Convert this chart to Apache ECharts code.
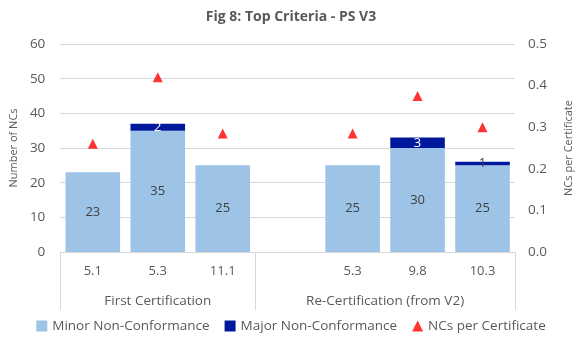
<!DOCTYPE html>
<html><head><meta charset="utf-8">
<script src="https://cdn.jsdelivr.net/npm/echarts@6/dist/echarts.min.js"></script>
<style>html,body{margin:0;padding:0;background:#fff}#c{width:582px;height:344px}</style>
</head><body><div id="c"></div>
<script>
const categories = ['5.1', '5.3', '11.1', '', '5.3', '9.8', '10.3'];
const groups = ['First Certification', 'Re-Certification (from V2)'];
const groupSlots = [3, 4];
const minorNC = [23, 35, 25, '-', 25, 30, 25];
const majorNC = [0, 2, 0, '-', 0, 3, 1];
const ncPerCert = [0.26, 0.42, 0.285, '-', 0.285, 0.375, 0.30];
const leftTicks = [0, 60, 10];
const rightTicks = [0, 0.5, 0.1];

// group axis built at half-slot resolution (boundaryGap false)
const groupData = new Array(categories.length * 2 + 1).fill('');
const groupBounds = [0];
const labelIdx = [];
let acc = 0;
groupSlots.forEach((s, i) => {
  groupData[acc * 2 + s] = groups[i];
  labelIdx.push(acc * 2 + s);
  acc += s;
  groupBounds.push(acc * 2);
});

const txt = '#595959';
const font = 'Open Sans';
const chart = echarts.init(document.getElementById('c'));
chart.setOption({
  animation: false,
  textStyle: { fontFamily: font },
  title: {
    text: 'Fig 8: Top Criteria - PS V3', left: 'center', top: 5,
    textStyle: { fontFamily: font, fontWeight: 'bold', fontSize: 14, color: txt }
  },
  grid: { left: 58, right: 64, top: 44, bottom: 92 },
  legend: {
    bottom: 6, left: 'center', itemGap: 15, itemWidth: 11, itemHeight: 11,
    textStyle: { color: txt, fontSize: 13.5, fontFamily: font },
    data: [
      { name: 'Minor Non-Conformance', icon: 'rect' },
      { name: 'Major Non-Conformance', icon: 'rect' },
      { name: 'NCs per Certificate', icon: 'triangle' }
    ]
  },
  xAxis: [
    {
      type: 'category', data: categories, position: 'bottom',
      axisLine: { lineStyle: { color: '#d9d9d9' } },
      axisTick: { show: false },
      axisLabel: { color: txt, fontSize: 13, margin: 13, interval: 0 }
    },
    {
      type: 'category', data: groupData, position: 'bottom', boundaryGap: false,
      axisLine: { show: false },
      axisTick: { show: true, length: 58, lineStyle: { color: '#d9d9d9' },
        interval: (i) => groupBounds.includes(i) },
      axisLabel: { color: txt, fontSize: 13.5, margin: 42,
        interval: (i) => labelIdx.includes(i) }
    }
  ],
  yAxis: [
    {
      type: 'value', min: leftTicks[0], max: leftTicks[1], interval: leftTicks[2],
      name: 'Number of NCs', nameLocation: 'middle', nameGap: 36, nameRotate: 90,
      nameTextStyle: { color: txt, fontSize: 11 },
      axisLine: { show: false }, axisTick: { show: false },
      axisLabel: { color: txt, fontSize: 13.5, margin: 15 },
      splitLine: { lineStyle: { color: '#d9d9d9' } }
    },
    {
      type: 'value', min: rightTicks[0], max: rightTicks[1], interval: rightTicks[2],
      name: 'NCs per Certificate', nameLocation: 'middle', nameGap: 48, nameRotate: 90,
      nameTextStyle: { color: txt, fontSize: 11 },
      axisLine: { show: false }, axisTick: { show: false },
      axisLabel: { color: txt, fontSize: 13.5, margin: 13, formatter: v => v.toFixed(1) },
      splitLine: { show: false }
    }
  ],
  series: [
    {
      name: 'Minor Non-Conformance', type: 'bar', stack: 'nc', data: minorNC,
      barCategoryGap: '16%', itemStyle: { color: '#9DC3E6' },
      label: { show: true, position: 'inside', color: '#404040', fontSize: 13 }
    },
    {
      name: 'Major Non-Conformance', type: 'bar', stack: 'nc',
      data: majorNC.map(v => (v === 1 ? { value: v, label: { color: '#404040' } } : v)),
      itemStyle: { color: '#00189C' },
      label: { show: true, position: 'inside', color: '#ffffff', fontSize: 13,
        formatter: p => (p.value ? String(p.value) : '') }
    },
    {
      name: 'NCs per Certificate', type: 'scatter', yAxisIndex: 1, data: ncPerCert,
      symbol: 'triangle', symbolSize: 10, itemStyle: { color: '#FF0000' }
    }
  ]
});
</script></body></html>
